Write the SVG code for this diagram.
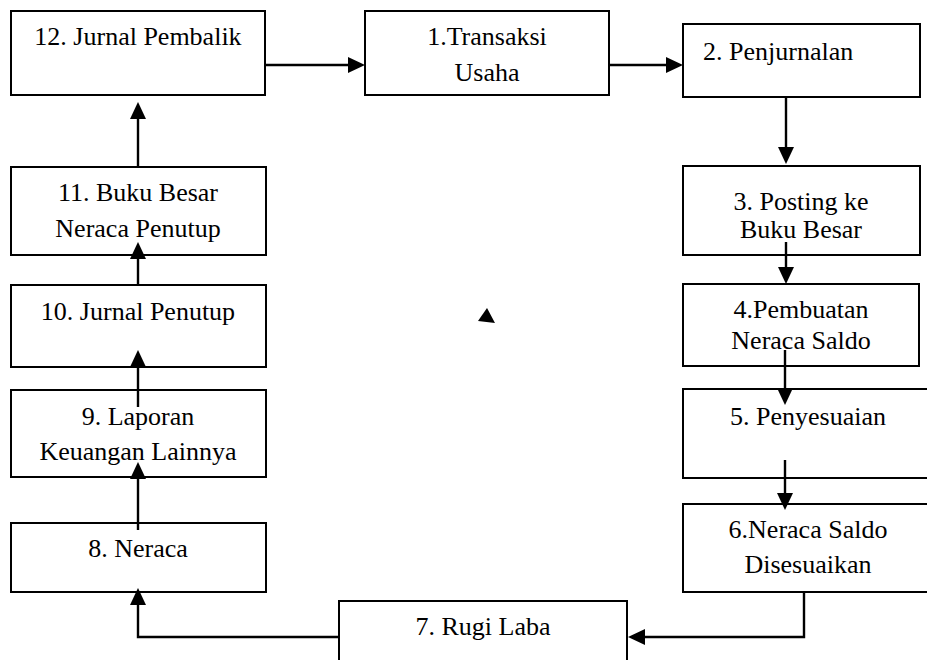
<svg xmlns="http://www.w3.org/2000/svg" width="927" height="660" viewBox="0 0 927 660">
<style>
.box{fill:#fff;stroke:#000;stroke-width:2}
.c{fill:none;stroke:#000;stroke-width:2.4}
.h{fill:#000}
</style>
<rect width="927" height="660" fill="#fff"/>
<g id="n12"><rect class="box" x="11" y="11" width="254" height="84"/><text x="138" y="45" text-anchor="middle" font-family="Liberation Serif" font-size="26">12. Jurnal Pembalik</text></g>
<g id="n1"><rect class="box" x="365" y="11" width="244" height="84"/><text x="487" y="45" text-anchor="middle" font-family="Liberation Serif" font-size="26">1.Transaksi</text><text x="487" y="81" text-anchor="middle" font-family="Liberation Serif" font-size="26">Usaha</text></g>
<g id="n2"><rect class="box" x="683" y="24" width="237" height="73"/><text x="703" y="60" font-family="Liberation Serif" font-size="26">2. Penjurnalan</text></g>
<g id="n3"><rect class="box" x="683" y="166" width="237" height="89"/><text x="801" y="210" text-anchor="middle" font-family="Liberation Serif" font-size="26">3. Posting ke</text><text x="801" y="238" text-anchor="middle" font-family="Liberation Serif" font-size="26">Buku Besar</text></g>
<g id="n4"><rect class="box" x="683" y="284" width="236" height="82"/><text x="801" y="318" text-anchor="middle" font-family="Liberation Serif" font-size="26">4.Pembuatan</text><text x="801" y="349" text-anchor="middle" font-family="Liberation Serif" font-size="26">Neraca Saldo</text></g>
<g id="n5"><rect class="box" x="683" y="389" width="260" height="89"/><text x="808" y="425" text-anchor="middle" font-family="Liberation Serif" font-size="26">5. Penyesuaian</text></g>
<g id="n6"><rect class="box" x="683" y="504" width="260" height="88"/><text x="808" y="538" text-anchor="middle" font-family="Liberation Serif" font-size="26">6.Neraca Saldo</text><text x="808" y="573" text-anchor="middle" font-family="Liberation Serif" font-size="26">Disesuaikan</text></g>
<g id="n7"><rect class="box" x="339" y="601" width="288" height="80"/><text x="483" y="635" text-anchor="middle" font-family="Liberation Serif" font-size="26">7. Rugi Laba</text></g>
<g id="n8"><rect class="box" x="11" y="523" width="255" height="69"/><text x="138" y="557" text-anchor="middle" font-family="Liberation Serif" font-size="26">8. Neraca</text></g>
<g id="n9"><rect class="box" x="11" y="390" width="255" height="87"/><text x="138" y="425" text-anchor="middle" font-family="Liberation Serif" font-size="26">9. Laporan</text><text x="138" y="460" text-anchor="middle" font-family="Liberation Serif" font-size="26">Keuangan Lainnya</text></g>
<g id="n10"><rect class="box" x="11" y="285" width="255" height="82"/><text x="138" y="320" text-anchor="middle" font-family="Liberation Serif" font-size="26">10. Jurnal Penutup</text></g>
<g id="n11"><rect class="box" x="11" y="167" width="255" height="88"/><text x="138" y="201" text-anchor="middle" font-family="Liberation Serif" font-size="26">11. Buku Besar</text><text x="138" y="237" text-anchor="middle" font-family="Liberation Serif" font-size="26">Neraca Penutup</text></g>
<g id="connectors">
<line class="c" x1="265" y1="65" x2="350" y2="65"/><polygon class="h" points="348,57 365,65 348,73"/>
<line class="c" x1="609" y1="65" x2="668" y2="65"/><polygon class="h" points="666,57 683,65 666,73"/>
<line class="c" x1="786" y1="97" x2="786" y2="150"/><polygon class="h" points="778,147 794,147 786,164"/>
<line class="c" x1="786" y1="242" x2="786" y2="270"/><polygon class="h" points="778,267 794,267 786,284"/>
<line class="c" x1="785" y1="350" x2="785" y2="391"/><polygon class="h" points="777,388 793,388 785,405"/>
<line class="c" x1="785" y1="460" x2="785" y2="496"/><polygon class="h" points="777,493 793,493 785,510"/>
<path class="c" d="M804,592 V637 H643"/><polygon class="h" points="645,629 645,645 628,637"/>
<path class="c" d="M339,637 H138 V602"/><polygon class="h" points="130,605 146,605 138,588"/>
<line class="c" x1="138" y1="530" x2="138" y2="476"/><polygon class="h" points="130,479 146,479 138,462"/>
<line class="c" x1="138" y1="407" x2="138" y2="364"/><polygon class="h" points="130,367 146,367 138,350"/>
<line class="c" x1="138" y1="285" x2="138" y2="256"/><polygon class="h" points="130,259 146,259 138,242"/>
<line class="c" x1="138" y1="167" x2="138" y2="116"/><polygon class="h" points="130,119 146,119 138,102"/>
</g>
<polygon points="487,308 478,321 495,323" fill="#000"/>
</svg>
